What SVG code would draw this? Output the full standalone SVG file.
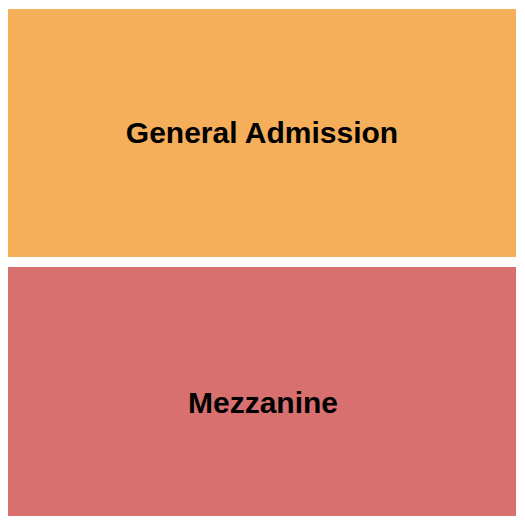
<svg xmlns="http://www.w3.org/2000/svg" width="525" height="525" viewBox="0 0 525 525">
<style>
.lbl{font-family:"Liberation Sans",Arial,sans-serif;font-weight:bold;font-size:30px;fill:#000;text-anchor:middle}
</style>
<rect width="525" height="525" fill="#ffffff"/>
<g id="general-admission">
<rect x="8" y="9" width="508" height="248" fill="#F5AE5A"/>
<text class="lbl" x="262" y="143">General Admission</text>
</g>
<g id="mezzanine">
<rect x="8" y="267" width="508" height="249" fill="#D87070"/>
<text class="lbl" x="263" y="413">Mezzanine</text>
</g>
<g id="connectors"/>
</svg>
